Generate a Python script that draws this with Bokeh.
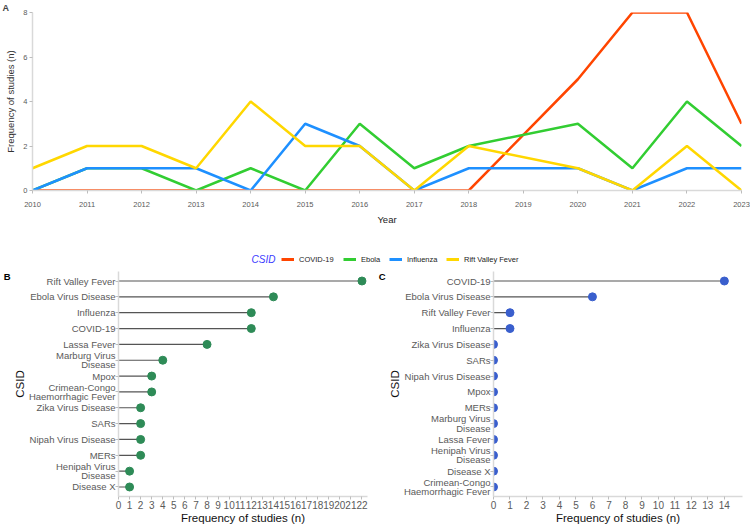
from bokeh.plotting import figure
from bokeh.layouts import column, row
from bokeh.models import (Legend, LegendItem, Range1d, LinearAxis, Label,
                          FixedTicker, ColumnDataSource)
from bokeh.embed import file_html
from bokeh.resources import INLINE

FONT = "Liberation Sans"

# ---------------- data ----------------
years = [2010, 2011, 2012, 2013, 2014, 2015, 2016, 2017, 2018, 2020, 2021, 2022, 2023]
covid19 = [0, 0, 0, 0, 0, 0, 0, 0, 0, 5, 8, 8, 3]
ebola = [0, 1, 1, 0, 1, 0, 3, 1, 2, 3, 1, 4, 2]
influenza = [0, 1, 1, 1, 0, 3, 2, 0, 1, 1, 0, 1, 1]
rift_valley = [1, 2, 2, 1, 4, 2, 2, 0, 2, 1, 0, 2, 0]
year_ticks = list(range(2010, 2024))
series_names = ["COVID-19", "Ebola", "Influenza", "Rift Valley Fever"]
series_colors = ["#FF4500", "#32CD32", "#1E90FF", "#FFD700"]

b_diseases = ["Rift Valley Fever", "Ebola Virus Disease", "Influenza", "COVID-19",
              "Lassa Fever", "Marburg Virus Disease", "Mpox",
              "Crimean-Congo Haemorrhagic Fever", "Zika Virus Disease", "SARs",
              "Nipah Virus Disease", "MERs", "Henipah Virus Disease", "Disease X"]
b_counts = [22, 14, 12, 12, 8, 4, 3, 3, 2, 2, 2, 2, 1, 1]
b_ticks = list(range(0, 23))

c_diseases = ["COVID-19", "Ebola Virus Disease", "Rift Valley Fever", "Influenza",
              "Zika Virus Disease", "SARs", "Nipah Virus Disease", "Mpox", "MERs",
              "Marburg Virus Disease", "Lassa Fever", "Henipah Virus Disease",
              "Disease X", "Crimean-Congo Haemorrhagic Fever"]
c_counts = [14, 6, 1, 1, 0, 0, 0, 0, 0, 0, 0, 0, 0, 0]
c_ticks = list(range(0, 15))

wrapped_labels = {"Marburg Virus Disease": "Marburg Virus\nDisease",
                  "Crimean-Congo Haemorrhagic Fever": "Crimean-Congo\nHaemorrhagic Fever",
                  "Henipah Virus Disease": "Henipah Virus\nDisease"}


def wrap(name):
    return wrapped_labels.get(name, name)


def base_style(p):
    p.xgrid.visible = False
    p.ygrid.visible = False
    p.outline_line_color = None
    p.background_fill_color = "white"
    p.border_fill_color = "white"
    for ax in (p.xaxis, p.yaxis):
        ax.axis_line_color = "#d9d9d9"
        ax.axis_line_width = 1.5
        ax.major_tick_line_color = "#bdbdbd"
        ax.minor_tick_line_color = None
        ax.minor_tick_out = 0
        ax.minor_tick_in = 0
        ax.major_label_text_font = FONT
        ax.axis_label_text_font = FONT
        ax.axis_label_text_font_style = "normal"


def letter_axis(p, letter):
    # an outer left axis carrying only the panel letter near the top of the frame
    p.extra_y_ranges = {"letter": Range1d(0, 1000)}
    ax = LinearAxis(y_range_name="letter", ticker=FixedTicker(ticks=[976]),
                    major_label_overrides={976: letter},
                    axis_line_color=None, major_tick_line_color=None,
                    minor_tick_line_color=None, major_tick_out=0, major_tick_in=0,
                    minor_tick_out=0, minor_tick_in=0, axis_label_standoff=0,
                    major_label_standoff=0, major_label_text_font=FONT,
                    major_label_text_font_style="bold",
                    major_label_text_font_size="9.5px",
                    major_label_text_color="black")
    p.add_layout(ax, "left")


def lollipop(names, counts, xmax, ticks, color, min_left, min_top, min_bottom):
    n = len(names)
    pos = [n - 1 - i for i in range(n)]          # first name at the top
    p = figure(width=375, height=260, output_backend="svg", toolbar_location=None,
               y_range=Range1d(-0.6, n - 0.4), x_range=Range1d(0, xmax),
               min_border_left=min_left, min_border_right=8,
               min_border_top=min_top, min_border_bottom=min_bottom)
    base_style(p)
    src = ColumnDataSource(dict(y=pos, n=counts, z=[0] * n))
    p.segment(x0="z", y0="y", x1="n", y1="y", source=src, line_color="#555555",
              line_width=1.2)
    p.scatter("n", "y", source=src, size=8, fill_color=color, line_color=color)
    p.yaxis.ticker = FixedTicker(ticks=pos)
    p.yaxis.major_label_overrides = {k: wrap(nm) for k, nm in zip(pos, names)}
    p.xaxis.ticker = FixedTicker(ticks=ticks)
    p.xaxis.major_label_text_font_size = "10px"
    p.yaxis.major_label_text_font_size = "9.5px"
    p.yaxis.major_label_text_line_height = 0.85
    p.xaxis.major_label_text_color = "#5a5a5a"
    p.yaxis.major_label_text_color = "#5a5a5a"
    p.xaxis.major_tick_out = 3
    p.yaxis.major_tick_out = 3
    p.xaxis.major_tick_in = 0
    p.yaxis.major_tick_in = 0
    p.xaxis.major_label_standoff = 1
    p.yaxis.major_label_standoff = 0
    p.xaxis.axis_label = "Frequency of studies (n)"
    p.yaxis.axis_label = "CSID"
    p.xaxis.axis_label_text_font_size = "11.5px"
    p.yaxis.axis_label_text_font_size = "11.5px"
    p.xaxis.axis_label_text_color = "#111111"
    p.yaxis.axis_label_text_color = "#111111"
    p.xaxis.axis_label_standoff = 0
    p.yaxis.axis_label_standoff = 0
    return p


# ---------------- panel A ----------------
pA = figure(width=750, height=252, output_backend="svg", toolbar_location=None,
            x_range=Range1d(2010, 2023), y_range=Range1d(0, 8),
            min_border_left=32, min_border_right=9, min_border_top=10,
            min_border_bottom=62)
base_style(pA)
pA.title.text = "A"
pA.title.align = "left"
pA.title.offset = -30
pA.title.standoff = 0
pA.title.text_font = FONT
pA.title.text_font_size = "9px"
pA.title.text_font_style = "bold"
srcA = ColumnDataSource(dict(year=years, c=covid19, e=ebola, i=influenza, r=rift_valley))
for col, color in zip(["c", "e", "i", "r"], series_colors):
    pA.line("year", col, source=srcA, line_color=color, line_width=2.5)
pA.xaxis.ticker = FixedTicker(ticks=year_ticks)
pA.yaxis.ticker = FixedTicker(ticks=[0, 2, 4, 6, 8])
pA.xaxis.major_label_text_font_size = "7.5px"
pA.yaxis.major_label_text_font_size = "7.5px"
pA.xaxis.major_label_text_color = "#5a5a5a"
pA.yaxis.major_label_text_color = "#5a5a5a"
pA.xaxis.major_tick_out = 3
pA.yaxis.major_tick_out = 3
pA.xaxis.major_tick_in = 0
pA.yaxis.major_tick_in = 0
pA.xaxis.major_label_standoff = 8
pA.yaxis.major_label_standoff = 2
pA.xaxis.axis_label = "Year"
pA.yaxis.axis_label = "Frequency of studies (n)"
pA.xaxis.axis_label_text_font_size = "9.5px"
pA.yaxis.axis_label_text_font_size = "9.5px"
pA.xaxis.axis_label_text_color = "#222222"
pA.yaxis.axis_label_text_color = "#333333"
pA.xaxis.axis_label_standoff = 4
pA.yaxis.axis_label_standoff = 4

# ---------------- legend strip of panel A (frame aligned with panel A's frame) ----------------
pL = figure(width=750, height=14, output_backend="svg", toolbar_location=None,
            x_range=Range1d(0, 1), y_range=Range1d(0, 1),
            min_border_left=0, min_border_right=0, min_border_top=0, min_border_bottom=0)
pL.xaxis.visible = False
pL.yaxis.visible = False
pL.xgrid.visible = False
pL.ygrid.visible = False
pL.outline_line_color = None
srcL = ColumnDataSource(dict(year=years, c=covid19, e=ebola, i=influenza, r=rift_valley))
# same series, drawn outside this strip's visible range: they only feed the legend
proxies = [pL.line("year", col, source=srcL, line_color=c, line_width=3)
           for col, c in zip(["c", "e", "i", "r"], series_colors)]
legend_x = [249, 311, 357, 414]
for name, r, lx in zip(series_names, proxies, legend_x):
    pL.add_layout(Legend(items=[LegendItem(label=name, renderers=[r])],
                         orientation="horizontal",
                         label_text_font=FONT, label_text_font_size="7.5px",
                         label_text_color="#222222", label_standoff=5,
                         glyph_width=13, glyph_height=10, spacing=0,
                         padding=0, margin=0, border_line_alpha=0,
                         background_fill_alpha=0, location=(lx, 2)))
pL.add_layout(Label(x=219, y=7, x_units="screen", y_units="screen", text="CSID",
                    text_font=FONT, text_font_style="italic", text_font_size="10px",
                    text_color="#3a3aff", text_baseline="middle", text_align="left"))

# ---------------- panels B and C ----------------
pB = lollipop(b_diseases, b_counts, 22.5, b_ticks, "#2E8B57", 106, 1, 27)
pC = lollipop(c_diseases, c_counts, 15.1, c_ticks, "#3A5FCD", 115, 5, 30)
letter_axis(pB, "B")
letter_axis(pC, "C")

layout = column(pA, pL, row(pB, pC))
open("out.html", "w").write(file_html(layout, INLINE))
